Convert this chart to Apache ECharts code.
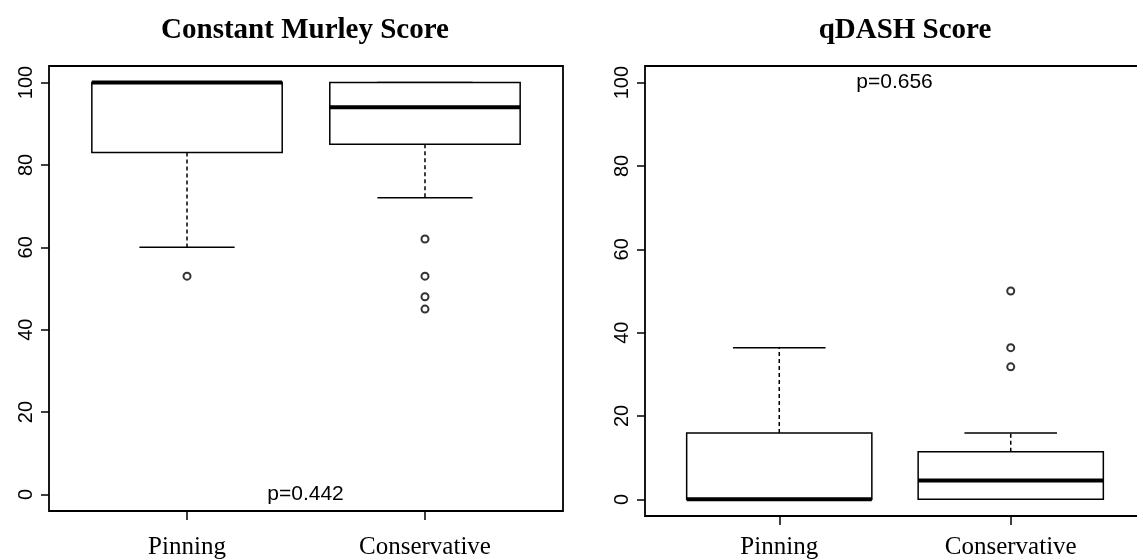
<!DOCTYPE html>
<html>
<head>
<meta charset="utf-8">
<script src="https://cdn.jsdelivr.net/npm/echarts@6/dist/echarts.min.js"></script>
<style>
  html, body { margin: 0; padding: 0; background: #fff; }
  #chart { width: 1137px; height: 560px; }
</style>
</head>
<body>
<div id="chart"></div>
<script>
// groups (x positions 1 and 2)
var categories = ["Pinning", "Conservative"];
var titles = ["Constant Murley Score", "qDASH Score"];

// box stats: [lower whisker, Q1, median, Q3, upper whisker]
var murleyBoxes = [
  [60, 83, 100, 100, 100],
  [72, 85, 94, 100, 100],
];
var murleyOutliers = [[53], [62, 53, 48, 45]];

var qdashBoxes = [
  [0, 0, 0, 15.9, 36.4],
  [0, 0, 4.5, 11.4, 15.9],
];
var qdashOutliers = [[], [50, 36.4, 31.8]];

var yTicks = [0, 20, 40, 60, 80, 100];
var pLabels = ["p=0.442", "p=0.656"];
var pLabelY = [0, 100];

var chart = echarts.init(document.getElementById("chart"));

function boxData(boxes) {
  return boxes.map(function (b, i) {
    return [i + 1].concat(b);
  });
}

function outlierData(outs) {
  var res = [];
  outs.forEach(function (list, i) {
    list.forEach(function (v) {
      res.push([i + 1, v]);
    });
  });
  return res;
}

// R style box: solid box, thick median, dashed whiskers with caps
function renderBox(params, api) {
  var x = api.value(0);
  var lo = api.coord([x, api.value(1)]);
  var q1 = api.coord([x, api.value(2)]);
  var med = api.coord([x, api.value(3)]);
  var q3 = api.coord([x, api.value(4)]);
  var hi = api.coord([x, api.value(5)]);
  var half = api.size([0.8, 0])[0] / 2;
  var cap = api.size([0.4, 0])[0] / 2;
  var cx = q1[0];
  var thin = { stroke: "#000", lineWidth: 1.5 };
  var dash = { stroke: "#000", lineWidth: 1.5, lineDash: [4, 3] };
  return {
    type: "group",
    children: [
      { type: "line", shape: { x1: cx, y1: q3[1], x2: cx, y2: hi[1] }, style: dash },
      { type: "line", shape: { x1: cx - cap, y1: hi[1], x2: cx + cap, y2: hi[1] }, style: thin },
      { type: "line", shape: { x1: cx, y1: q1[1], x2: cx, y2: lo[1] }, style: dash },
      { type: "line", shape: { x1: cx - cap, y1: lo[1], x2: cx + cap, y2: lo[1] }, style: thin },
      {
        type: "rect",
        shape: { x: cx - half, y: q3[1], width: half * 2, height: q1[1] - q3[1] },
        style: { fill: "#fff", stroke: "#000", lineWidth: 1.5 },
      },
      { type: "line", shape: { x1: cx - half, y1: med[1], x2: cx + half, y2: med[1] }, style: { stroke: "#000", lineWidth: 4 } },
    ],
  };
}

var grids = [
  { left: 49, top: 66, width: 514, height: 445 },
  { left: 645, top: 66, width: 500, height: 450 },
];
var xLabelMargin = [24, 19];

var option = {
  animation: false,
  backgroundColor: "#fff",
  title: [
    { text: titles[0], left: 300, top: 11, textAlign: "center" },
    { text: titles[1], left: 900, top: 11, textAlign: "center" },
  ].map(function (t) {
    t.textStyle = { fontFamily: "Liberation Serif", fontWeight: "bold", fontSize: 29, color: "#000" };
    return t;
  }),
  grid: grids.map(function (g) {
    return Object.assign({
      show: true,
      borderColor: "#000",
      borderWidth: 1.8,
      backgroundColor: "transparent",
      containLabel: false,
      outerBoundsMode: "none",
    }, g);
  }),
  xAxis: [0, 1].map(function (i) {
    return {
      type: "value",
      gridIndex: i,
      min: 0.42,
      max: 2.58,
      splitLine: { show: false },
      axisLine: { show: false, onZero: false },
      axisTick: { show: true, length: 9, customValues: [1, 2], lineStyle: { color: "#000", width: 1.5 } },
      axisLabel: {
        customValues: [1, 2],
        margin: xLabelMargin[i],
        color: "#000",
        fontFamily: "Liberation Serif",
        fontSize: 25,
        formatter: function (v) {
          return categories[Math.round(v) - 1];
        },
      },
    };
  }),
  yAxis: [0, 1].map(function (i) {
    return {
      type: "value",
      gridIndex: i,
      min: -4,
      max: 104,
      splitLine: { show: false },
      axisLine: { show: false, onZero: false },
      axisTick: { show: true, length: 8, customValues: yTicks, lineStyle: { color: "#000", width: 1.5 } },
      axisLabel: {
        customValues: yTicks,
        rotate: 90,
        margin: 13,
        color: "#000",
        fontFamily: "Liberation Sans",
        fontSize: 20,
      },
    };
  }),
  series: [],
};

[murleyBoxes, qdashBoxes].forEach(function (boxes, i) {
  option.series.push({
    type: "custom",
    xAxisIndex: i,
    yAxisIndex: i,
    renderItem: renderBox,
    encode: { x: 0, y: [1, 2, 3, 4, 5] },
    data: boxData(boxes),
    clip: true,
  });
});

[murleyOutliers, qdashOutliers].forEach(function (outs, i) {
  option.series.push({
    type: "scatter",
    xAxisIndex: i,
    yAxisIndex: i,
    symbol: "emptyCircle",
    symbolSize: 7,
    itemStyle: { color: "#000", borderWidth: 1.3 },
    data: outlierData(outs),
  });
});

// p-value text placed at data coordinates
pLabels.forEach(function (txt, i) {
  option.series.push({
    type: "scatter",
    xAxisIndex: i,
    yAxisIndex: i,
    symbol: "circle",
    symbolSize: 1,
    itemStyle: { color: "#fff" },
    label: {
      show: true,
      position: [0, 0],
      align: "center",
      verticalAlign: "middle",
      formatter: txt,
      color: "#000",
      opacity: 1,
      textBorderWidth: 0,
      fontFamily: "Liberation Sans",
      fontSize: 21,
    },
    data: [[1.5, pLabelY[i]]],
  });
});

chart.setOption(option);
window.onresize = chart.resize;
</script>
</body>
</html>
